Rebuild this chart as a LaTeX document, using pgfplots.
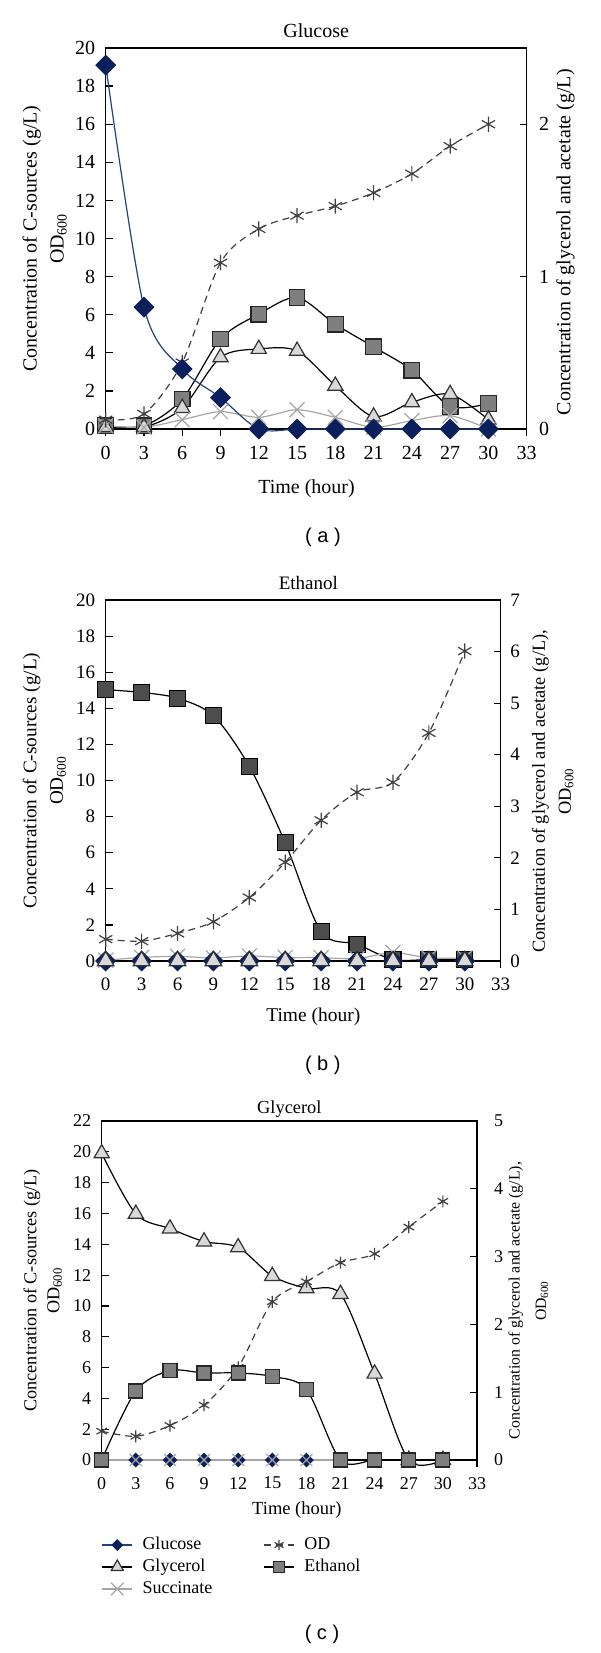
\documentclass[border=0pt]{standalone}
\usepackage{fontspec}
\setmainfont{Liberation Serif}
\newfontfamily\sansf{Liberation Sans}
\usepackage{pgfplots}
\pgfplotsset{compat=1.18}
\definecolor{glu}{HTML}{0A1F5C}
\definecolor{gluline}{HTML}{22407F}
\definecolor{odc}{HTML}{404040}
\definecolor{etha}{HTML}{7F7F7F}
\definecolor{ethb}{HTML}{4D4D4D}
\definecolor{tri}{HTML}{D9D9D9}
\definecolor{suc}{HTML}{A6A6A6}
\pgfplotsset{
 every axis title shift=0pt,
 glucose/.style={color=gluline, line width=0.6pt, smooth, mark=square*, mark size=3.4pt, mark options={rotate=45, fill=glu, draw=glu, solid}},
 glycerol/.style={color=black, line width=0.6pt, smooth, mark=triangle*, mark size=4.4pt, mark options={fill=tri, draw=black!80, solid}},
 succinate/.style={color=suc, line width=0.6pt, smooth, mark=x, mark size=5.3pt, mark options={solid}},
 od/.style={color=odc, line width=0.6pt, dash pattern=on 3.5pt off 2.5pt, smooth, mark=asterisk, mark size=3.8pt, mark options={solid}},
 ethanol/.style={color=black, line width=0.6pt, smooth, mark=square*, mark size=3.9pt, mark options={fill=etha, draw=black!85, solid}},
 panel/.style={scale only axis, xmin=0, xmax=33, xtick={0,3,...,33}, axis line style={line width=0.6pt},
   tick style={black, line width=0.6pt}, major tick length=3.5pt, tick align=inside,
   xtick pos=bottom, ytick pos=left, x tick style={yshift=-3.5pt},
   xticklabel style={yshift=-5pt}, yticklabel style={xshift=-1.7pt},
   clip=false, /pgf/number format/assume math mode=true, xlabel={Time (hour)}},
 rpanel/.style={scale only axis, xmin=0, xmax=33, ymin=0, axis x line=none, axis y line*=right,
   axis line style={line width=0.6pt}, tick style={black, line width=0.6pt}, major tick length=3.5pt,
   tick align=inside, /pgf/number format/assume math mode=true}
}
\begin{document}
\begin{tikzpicture}
\useasboundingbox (0,0) rectangle (300pt,-826.5pt);

% ---------------- (a) Glucose
\begin{axis}[panel, at={(52.85pt,-214.5pt)}, anchor=south west, width=210.5pt, height=190.5pt,
  ymin=0, ymax=20, ytick={0,2,...,20},
  tick label style={font=\rmfamily\fontsize{10}{12}\selectfont},
  title={Glucose}, title style={at={(axis description cs:0.5,1.046)}, anchor=center, font=\fontsize{10}{12}\selectfont},
  ylabel={Concentration of C-sources (g/L)\\OD\textsubscript{600}},
  ylabel style={at={(axis description cs:-0.145,0.5)}, anchor=center, align=center, font=\fontsize{10}{13.5}\selectfont},
  xlabel style={at={(axis description cs:0.477,-0.156)}, anchor=center, font=\fontsize{10}{12}\selectfont}]
\addplot[ethanol] coordinates {(0,0.17)(3,0.17)(6,1.57)(9,4.72)(12,6.03)(15,6.9)(18,5.5)(21,4.31)(24,3.09)(27,1.19)(30,1.34)};
\addplot[glycerol] coordinates {(0,0.1)(3,0.1)(6,1.1)(9,3.76)(12,4.2)(15,4.1)(18,2.27)(21,0.65)(24,1.4)(27,1.83)(30,0.49)};
\addplot[succinate] coordinates {(0,0.17)(3,0.09)(6,0.49)(9,0.91)(12,0.61)(15,1.01)(18,0.61)(21,0.09)(24,0.44)(27,0.7)(30,0)};
\addplot[od] coordinates {(0,0.49)(3,0.79)(6,3.49)(9,8.73)(12,10.5)(15,11.2)(18,11.7)(21,12.4)(24,13.4)(27,14.85)(30,16.0)};
\addplot[glucose] coordinates {(0,19.1)(3,6.4)(6,3.15)(9,1.65)(12,0)(15,0)(18,0)(21,0)(24,0)(27,0)(30,0)};
\end{axis}
\begin{axis}[rpanel, at={(52.85pt,-214.5pt)}, anchor=south west, width=210.5pt, height=190.5pt,
  ymax=2.5, ytick={0,1,2}, yticklabel style={xshift=2.7pt},
  tick label style={font=\rmfamily\fontsize{10}{12}\selectfont},
  ylabel={Concentration of glycerol and acetate (g/L)},
  ylabel style={at={(axis description cs:1.0924,0.49)}, anchor=center, font=\fontsize{10}{12}\selectfont}]
\addplot[draw=none] coordinates {(0,0)};
\end{axis}
\node[font=\sansf\fontsize{10}{12}\selectfont] at (161.5pt,-268.5pt) {( a )};

% ---------------- (b) Ethanol
\begin{axis}[panel, at={(52.85pt,-480.5pt)}, anchor=south west, width=197.5pt, height=180.5pt,
  ymin=0, ymax=20, ytick={0,2,...,20},
  tick label style={font=\rmfamily\fontsize{9.5}{11}\selectfont},
  title={Ethanol}, title style={at={(axis description cs:0.513,1.047)}, anchor=center, font=\fontsize{9.5}{11}\selectfont},
  ylabel={Concentration of C-sources (g/L)\\OD\textsubscript{600}},
  ylabel style={at={(axis description cs:-0.155,0.5)}, anchor=center, align=center, font=\fontsize{9.6}{13.3}\selectfont},
  xlabel style={at={(axis description cs:0.5256,-0.155)}, anchor=center, font=\fontsize{9.75}{12}\selectfont}]
\addplot[ethanol, mark size=4pt, mark options={fill=ethb}] coordinates {(0,15.03)(3,14.88)(6,14.56)(9,13.59)(12,10.78)(15,6.55)(18,1.62)(21,0.93)(24,0.08)(27,0.08)(30,0.08)};
\addplot[od] coordinates {(0,1.21)(3,1.1)(6,1.53)(9,2.18)(12,3.52)(15,5.47)(18,7.8)(21,9.35)(24,9.9)(27,12.64)(30,17.17)};
\addplot[succinate] coordinates {(0,0.04)(3,0.2)(6,0.26)(9,0.17)(12,0.28)(15,0.19)(18,0.19)(21,0.13)(24,0.47)(27,0.17)(30,0.17)};
\addplot[glucose] coordinates {(0,0)(3,0)(6,0)(9,0)(12,0)(15,0)(18,0)(21,0)(24,0)(27,0)(30,0)};
\addplot[glycerol, mark size=4.8pt] coordinates {(0,0)(3,0)(6,0)(9,0)(12,0)(15,0)(18,0)(21,0)(24,0)(27,0)(30,0)};
\end{axis}
\begin{axis}[rpanel, at={(52.85pt,-480.5pt)}, anchor=south west, width=197.5pt, height=180.5pt,
  ymax=7, ytick={0,1,...,7}, yticklabel style={xshift=1.3pt},
  tick label style={font=\rmfamily\fontsize{9.5}{11}\selectfont},
  ylabel={Concentration of glycerol and acetate (g/L),\\OD\textsubscript{600}},
  ylabel style={at={(axis description cs:1.1316,0.47)}, anchor=center, align=center, font=\fontsize{9.2}{13}\selectfont}]
\addplot[draw=none] coordinates {(0,0)};
\end{axis}
\node[font=\sansf\fontsize{10}{12}\selectfont] at (161.4pt,-532.7pt) {( b )};

% ---------------- (c) Glycerol
\begin{axis}[panel, at={(50.85pt,-730pt)}, anchor=south west, width=187.65pt, height=169.5pt,
  ymin=0, ymax=22, ytick={0,2,...,22},
  tick label style={font=\rmfamily\fontsize{9}{11}\selectfont},
  title={Glycerol}, title style={at={(axis description cs:0.5,1.034)}, anchor=center, font=\fontsize{9.2}{11}\selectfont},
  ylabel={Concentration of C-sources (g/L)\\OD\textsubscript{600}},
  ylabel style={at={(axis description cs:-0.157,0.5)}, anchor=center, align=center, font=\fontsize{9.1}{11.5}\selectfont},
  xlabel style={at={(axis description cs:0.52,-0.1475)}, anchor=center, font=\fontsize{9.25}{11}\selectfont},
  legend style={at={(axis description cs:0,-0.2212)}, anchor=north west, draw=none, fill=none, inner sep=0pt, outer sep=0pt,
    font=\fontsize{9}{11}\selectfont, nodes={inner sep=0.5pt, text height=6.5pt, text depth=2.5pt}, row sep=1pt,
    /tikz/every odd column/.append style={column sep=4.3pt},
    /tikz/every even column/.append style={column sep=25pt}},
  legend columns=2, legend cell align=left,
  legend image code/.code={\draw[mark repeat=2,mark phase=2,#1] plot coordinates {(0pt,0pt) (7.5pt,0pt) (15pt,0pt)};}]
\addplot[glycerol, forget plot] coordinates {(0,19.9)(3,15.97)(6,15.02)(9,14.18)(12,13.8)(15,11.94)(18,11.14)(21,10.77)(24,5.6)(27,0)(30,0)};
\addplot[od, mark size=3pt, forget plot] coordinates {(0,1.87)(3,1.54)(6,2.24)(9,3.56)(12,6.02)(15,10.27)(18,11.57)(21,12.81)(24,13.38)(27,15.12)(30,16.79)};
\addplot[glucose, mark size=2.3pt, forget plot] coordinates {(0,0)(3,0)(6,0)(9,0)(12,0)(15,0)(18,0)};
\addplot[succinate, mark size=4.2pt, forget plot] coordinates {(0,0)(3,0)(6,0)(9,0)(12,0)(15,0)(18,0)(21,0)};
\addplot[ethanol, mark size=3.5pt, forget plot] coordinates {(0,0)(3,4.48)(6,5.8)(9,5.65)(12,5.65)(15,5.42)(18,4.58)(21,0)(24,0)(27,0)(30,0)};
\addlegendimage{glucose, mark size=1.8pt}
\addlegendentry{Glucose}
\addlegendimage{od, mark size=2.6pt}
\addlegendentry{OD}
\addlegendimage{glycerol, mark size=3.5pt}
\addlegendentry{Glycerol}
\addlegendimage{ethanol, mark size=2.8pt}
\addlegendentry{Ethanol}
\addlegendimage{succinate, mark size=4.4pt}
\addlegendentry{Succinate}
\end{axis}
\begin{axis}[rpanel, at={(50.85pt,-730pt)}, anchor=south west, width=187.65pt, height=169.5pt,
  ymax=5, ytick={0,1,...,5}, yticklabel style={xshift=5pt},
  tick label style={font=\rmfamily\fontsize{9}{11}\selectfont},
  ylabel={Concentration of glycerol and acetate (g/L),\\OD\textsubscript{600}},
  ylabel style={at={(axis description cs:1.137,0.47)}, anchor=center, align=center, font=\fontsize{7.9}{13.3}\selectfont}]
\addplot[draw=none] coordinates {(0,0)};
\end{axis}
\node[font=\sansf\fontsize{10}{12}\selectfont] at (161pt,-817pt) {( c )};
\end{tikzpicture}
\end{document}
